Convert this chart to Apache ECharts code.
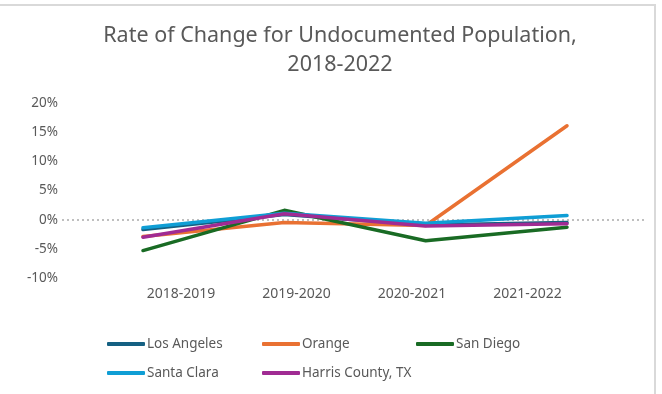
<!DOCTYPE html>
<html>
<head>
<meta charset="utf-8">
<script src="https://cdn.jsdelivr.net/npm/echarts@6/dist/echarts.min.js"></script>
<style>
  html, body { margin: 0; padding: 0; background: #fff; }
  #main { width: 662px; height: 394px; }
</style>
</head>
<body>
<div id="main"></div>
<script>
// periods on the x axis
var periods = ['2018-2019', '2019-2020', '2020-2021', '2021-2022'];
// percent change per county
var losAngeles  = [-1.7, 0.9, -0.9, -0.5];
var orange      = [-2.9, -0.5, -1.0, 16.1];
var sanDiego    = [-5.3, 1.6, -3.6, -1.3];
var santaClara  = [-1.4, 1.1, -0.6, 0.7];
var harris      = [-3.0, 1.0, -1.1, -0.7];
var yTicks = [-10, -5, 0, 5, 10, 15, 20];

var chartDom = document.getElementById('main');
var myChart = echarts.init(chartDom);
var font = 'Noto Sans';
var grey = '#595959';
var clear = 'rgba(0,0,0,0)';

var yMin = yTicks[0], yMax = yTicks[yTicks.length - 1];
// dotted line only at 0%
var splitColors = yTicks.map(function (t) { return t === 0 ? '#bfbfbf' : clear; });

function lineSeries(name, data, color) {
    return {
        name: name,
        type: 'line',
        xAxisIndex: 1,
        yAxisIndex: 1,
        data: data,
        symbol: 'none',
        lineStyle: { width: 3.5, color: color, cap: 'round', join: 'round' },
        itemStyle: { color: color }
    };
}

function legendCol(left, names) {
    return {
        data: names,
        left: left,
        top: 332,
        orient: 'vertical',
        itemGap: 15,
        itemWidth: 38,
        itemHeight: 4,
        icon: 'roundRect',
        textStyle: { fontFamily: font, fontSize: 13.5, color: grey, padding: [0, 0, 0, -3] }
    };
}

var option = {
    animation: false,
    backgroundColor: '#fff',
    title: {
        text: 'Rate of Change for Undocumented Population,\n2018-2022',
        left: 335,
        textAlign: 'center',
        top: 16,
        textStyle: { fontFamily: font, fontSize: 21.5, fontWeight: 'normal', color: grey, lineHeight: 29 }
    },
    legend: [
        legendCol(102, ['Los Angeles', 'Santa Clara']),
        legendCol(257, ['Orange', 'Harris County, TX']),
        legendCol(411, ['San Diego'])
    ],
    grid: [
        { left: 62, right: 17, top: 103, bottom: 116 },      // y axis + zero line
        { left: 72.3, right: 24.3, top: 103, bottom: 116 },  // lines
        { left: 123.3, right: 76.7, top: 103, bottom: 116 }  // category labels
    ],
    xAxis: [
        { gridIndex: 0, type: 'category', data: periods, show: false },
        { gridIndex: 1, type: 'category', data: periods, show: false },
        {
            gridIndex: 2, type: 'category', data: periods,
            axisLine: { show: false }, axisTick: { show: false },
            axisLabel: { margin: 9, fontFamily: font, fontSize: 14, color: grey }
        }
    ],
    yAxis: [
        {
            gridIndex: 0, type: 'value', min: yMin, max: yMax, interval: 5,
            axisLine: { show: false }, axisTick: { show: false },
            axisLabel: { margin: 4, fontFamily: font, fontSize: 13.5, color: grey,
                formatter: function (v) { return v + '%'; } },
            splitLine: { show: true, lineStyle: { color: splitColors, width: 2, type: [2, 3] } }
        },
        { gridIndex: 1, type: 'value', min: yMin, max: yMax, show: false, splitLine: { show: false } },
        { gridIndex: 2, type: 'value', min: yMin, max: yMax, show: false, splitLine: { show: false } }
    ],
    graphic: [
        { type: 'line', shape: { x1: 0, y1: 5, x2: 656, y2: 5 }, style: { stroke: '#d9d9d9', lineWidth: 2 } },
        { type: 'line', shape: { x1: 655, y1: 5, x2: 655, y2: 394 }, style: { stroke: '#d9d9d9', lineWidth: 2 } }
    ],
    series: [
        lineSeries('Los Angeles', losAngeles, '#156082'),
        lineSeries('Orange', orange, '#E97132'),
        lineSeries('San Diego', sanDiego, '#196B24'),
        lineSeries('Santa Clara', santaClara, '#0F9ED5'),
        lineSeries('Harris County, TX', harris, '#A02B93')
    ]
};

option && myChart.setOption(option);
</script>
</body>
</html>
